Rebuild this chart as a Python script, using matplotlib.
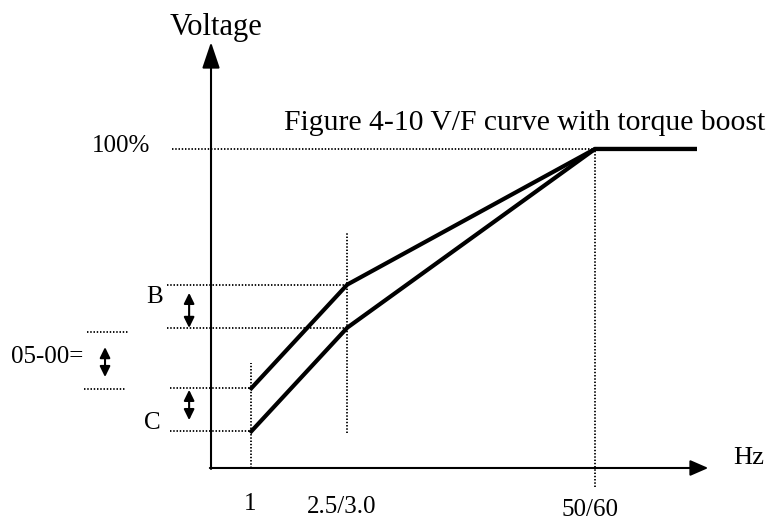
import numpy as np
import matplotlib
matplotlib.use('Agg')
import matplotlib.pyplot as plt

# schematic V/F curve, x in frequency steps, y in % of rated voltage
freq_points = [10.5, 35.5, 100, 126]
volt_boost_b = [25, 57.5, 100, 100]   # upper curve (with boost B)
volt_boost_c = [11.5, 44, 100, 100]   # lower curve (with boost C)
freq_labels = ['1', '2.5/3.0', '50/60']
freq_label_pos = [10.2, 34.1, 98.7]
x_axis_end = 129.5
y_axis_end = 133.5

# levels marked at the left of the chart
b_levels = [57.5, 44]
c_levels = [25, 11.5]
p0500_levels = [42.6, 24.8]

plt.rcParams['font.family'] = ['Liberation Serif', 'DejaVu Serif']

fig = plt.figure(figsize=(7.7, 5.22), dpi=100)
ax = fig.add_axes([0, 0, 1, 1])
ax.set_xlim(-54.95, 145.57)
ax.set_ylim(-16.93, 146.7)
ax.axis('off')

# axes with arrow heads
ax.annotate('', xy=(0, y_axis_end), xytext=(0, -0.3),
            arrowprops=dict(arrowstyle='-|>,head_length=0.8,head_width=0.27',
                            mutation_scale=20, lw=1.5, color='black',
                            shrinkA=0, shrinkB=0))
ax.annotate('', xy=(x_axis_end, 0), xytext=(-0.3, 0),
            arrowprops=dict(arrowstyle='-|>,head_length=0.55,head_width=0.24',
                            mutation_scale=20, lw=1.5, color='black',
                            shrinkA=0, shrinkB=0))

dot = dict(color='black', lw=1.3, linestyle=(0, (0.8, 1.0)))

# dotted guide lines
ax.plot([-10.2, freq_points[2]], [100, 100], **dot)
ax.plot([-11.5, freq_points[1]], [b_levels[0], b_levels[0]], **dot)
ax.plot([-11.5, freq_points[1]], [b_levels[1], b_levels[1]], **dot)
ax.plot([-10.7, freq_points[0]], [c_levels[0], c_levels[0]], **dot)
ax.plot([-10.7, freq_points[0]], [c_levels[1], c_levels[1]], **dot)
ax.plot([-32.3, -21.6], [p0500_levels[0], p0500_levels[0]], **dot)
ax.plot([-33.1, -22.1], [p0500_levels[1], p0500_levels[1]], **dot)
ax.plot([freq_points[0], freq_points[0]], [0, 32.9], **dot)
ax.plot([freq_points[1], freq_points[1]], [11, 74], **dot)
ax.plot([freq_points[2], freq_points[2]], [-6, 100], **dot)

# the two V/F curves
ax.plot(freq_points, volt_boost_b, color='black', lw=3, solid_joinstyle='miter')
ax.plot(freq_points, volt_boost_c, color='black', lw=3, solid_joinstyle='miter')

# double headed arrows for the boost amounts
dbl = dict(arrowstyle='<|-|>,head_length=0.45,head_width=0.22',
           mutation_scale=14, lw=1.5, color='black', shrinkA=0, shrinkB=0)
ax.annotate('', xy=(-5.7, 54.9), xytext=(-5.7, 43.9), arrowprops=dbl)
ax.annotate('', xy=(-27.6, 37.9), xytext=(-27.6, 28.5), arrowprops=dbl)
ax.annotate('', xy=(-5.7, 24.5), xytext=(-5.7, 15.0), arrowprops=dbl)

# texts
ax.text(1.3, 138.2, 'Voltage', fontsize=22, ha='center', va='center')
ax.text(144.3, 108.2, 'Figure 4-10 V/F curve with torque boost', fontsize=21.3,
        ha='right', va='center')
ax.text(-15.9, 100.8, '100%', fontsize=18, ha='right', va='center')
ax.text(-14.6, 53.6, 'B', fontsize=18, ha='center', va='center')
ax.text(-15.4, 14.1, 'C', fontsize=18, ha='center', va='center')
ax.text(-42.6, 34.8, '05-00=', fontsize=18, ha='center', va='center')
ax.text(135.9, 3.1, 'Hz', fontsize=19, ha='left', va='center')
for i in range(len(freq_labels)):
    ax.text(freq_label_pos[i], -11.3 - 0.9 * i, freq_labels[i], fontsize=18,
            ha='center', va='center')

fig.savefig('out.png', dpi=100)
